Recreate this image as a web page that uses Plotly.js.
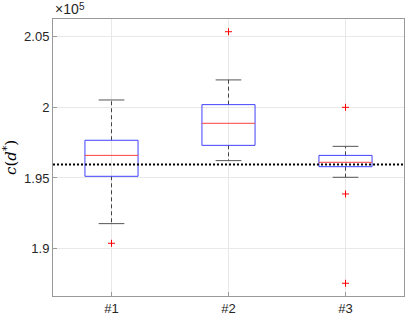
<!DOCTYPE html>
<html><head><script src="https://cdn.plot.ly/plotly-3.0.1.min.js"></script>
<style>body{margin:0;background:#fff}</style></head>
<body><div id="chart" style="width:407px;height:316px"></div>
<script>
const categories = ['#1', '#2', '#3'];
const positions = [1, 2, 3];
const q1 = [195120, 197310, 195800];
const median = [196600, 198870, 196110];
const q3 = [197670, 200190, 196600];
const lowerWhisker = [191770, 196230, 195050];
const upperWhisker = [200520, 201940, 197240];
const outliers = [[190380], [205350], [200000, 193870, 187550]];
const referenceValue = 195950;
const yTickVals = [190000, 195000, 200000, 205000];
const yTickText = ['1.9', '1.95', '2', '2.05'];
const exponentBase = '×10';
const exponentPower = '5';

const halfBox = 0.227, halfCap = 0.11;
const boxX = [], boxY = [], medX = [], medY = [], whX = [], whY = [], capX = [], capY = [];
const outX = [], outY = [];
positions.forEach((p, i) => {
  boxX.push(p - halfBox, p + halfBox, p + halfBox, p - halfBox, p - halfBox, null);
  boxY.push(q1[i], q1[i], q3[i], q3[i], q1[i], null);
  medX.push(p - halfBox, p + halfBox, null);
  medY.push(median[i], median[i], null);
  whX.push(p, p, null, p, p, null);
  whY.push(q3[i], upperWhisker[i], null, q1[i], lowerWhisker[i], null);
  capX.push(p - halfCap, p + halfCap, null, p - halfCap, p + halfCap, null);
  capY.push(upperWhisker[i], upperWhisker[i], null, lowerWhisker[i], lowerWhisker[i], null);
  outliers[i].forEach(v => { outX.push(p); outY.push(v); });
});

const traces = [
  {x: whX, y: whY, mode: 'lines', line: {color: '#444', width: 1, dash: '4px,3px'}, hoverinfo: 'skip'},
  {x: capX, y: capY, mode: 'lines', line: {color: '#555', width: 1}, hoverinfo: 'skip'},
  {x: boxX, y: boxY, mode: 'lines', line: {color: '#4040ff', width: 1}, hoverinfo: 'skip'},
  {x: medX, y: medY, mode: 'lines', line: {color: '#ff4040', width: 1}, hoverinfo: 'skip'},
  {x: outX, y: outY, mode: 'markers', marker: {symbol: 'cross-thin', size: 5, color: '#ff0000', line: {color: '#ff0000', width: 1}}, hoverinfo: 'skip'}
];

function tickFont(size) { return {family: 'Liberation Sans, Arial, sans-serif', size: size || 13, color: '#262626'}; }
const layout = {
  width: 407, height: 316,
  margin: {l: 53, r: 3, t: 19, b: 20},
  paper_bgcolor: '#fff', plot_bgcolor: '#fff',
  showlegend: false,
  xaxis: {
    range: [0.5, 3.5], tickvals: positions, ticktext: categories,
    showgrid: true, gridcolor: '#e8e8e8', gridwidth: 1, zeroline: false,
    showline: true, linecolor: '#999', linewidth: 1, mirror: true,
    ticks: 'inside', ticklen: 4, tickcolor: '#999', tickfont: tickFont()
  },
  yaxis: {
    range: [186650, 206250], tickvals: yTickVals, ticktext: yTickText,
    showgrid: true, gridcolor: '#e8e8e8', gridwidth: 1, zeroline: false,
    showline: true, linecolor: '#999', linewidth: 1, mirror: true,
    ticks: 'inside', ticklen: 4, tickcolor: '#999', tickfont: tickFont(),
    title: {text: '<i>c</i>(<i>d</i><sup>*</sup>)', font: {family: 'DejaVu Serif, Liberation Serif, serif', size: 15, color: '#000'}, standoff: 10}
  },
  shapes: [{type: 'line', xref: 'paper', x0: 0, x1: 1, yref: 'y', y0: referenceValue, y1: referenceValue,
            line: {color: '#000', width: 2, dash: '2px,2px'}, layer: 'above'}],
  annotations: [
    {xref: 'paper', yref: 'paper', x: 0, y: 1, xanchor: 'left', yanchor: 'bottom', xshift: 0, yshift: 0,
     text: exponentBase, showarrow: false, font: tickFont(14)},
    {xref: 'paper', yref: 'paper', x: 0, y: 1, xanchor: 'left', yanchor: 'bottom', xshift: 24, yshift: 5,
     text: exponentPower, showarrow: false, font: tickFont(10)}
  ]
};
Plotly.newPlot('chart', traces, layout, {displayModeBar: false, staticPlot: true});
</script></body></html>
